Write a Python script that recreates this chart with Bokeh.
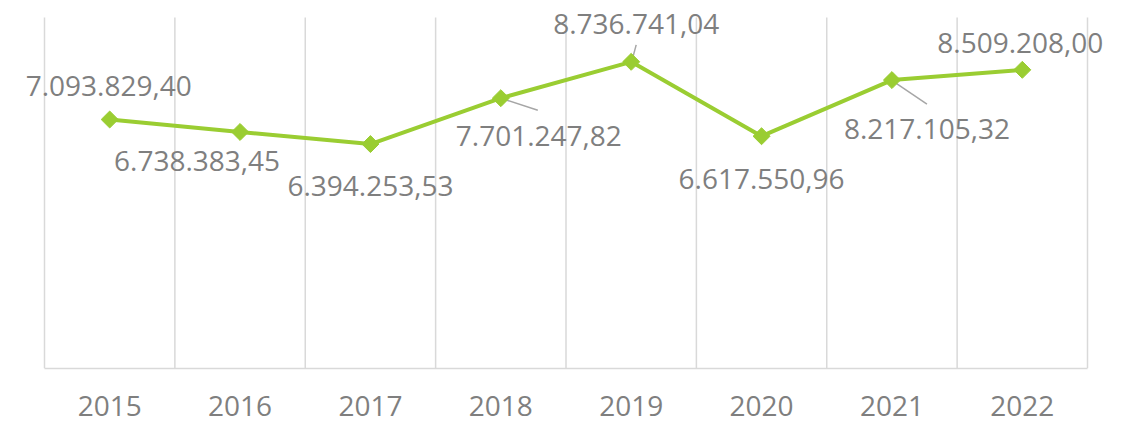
from bokeh.plotting import figure
from bokeh.models import FixedTicker, Range1d, ColumnDataSource, LabelSet
from bokeh.embed import file_html
from bokeh.resources import INLINE
from bokeh.core.properties import value

years = ["2015", "2016", "2017", "2018", "2019", "2020", "2021", "2022"]
values = [7093829.40, 6738383.45, 6394253.53, 7701247.82,
          8736741.04, 6617550.96, 8217105.32, 8509208.00]
labels = ["7.093.829,40", "6.738.383,45", "6.394.253,53", "7.701.247,82",
          "8.736.741,04", "6.617.550,96", "8.217.105,32", "8.509.208,00"]

# label placement (screen pixels, relative to the point; +dy is down)
label_dx = [-1, -43, 0, 38, 5, 0, 35, -2]
label_dy = [-34, 29, 42, 38, -38, 43, 49, -27]

# leader lines (index, start dx, start dy, end dx, end dy) in pixels
leaders = [(3, 3, 1, 37, 12), (4, 1, -2, 5, -17), (6, 1, 1, 35, 24)]

W, H = 1133, 422
# plot-area insets inside the (larger) frame, so labels are not clipped
PL, PR, PT, BB = 44, 46, 17, 54
N = len(years)
PAW = W - PL - PR            # plot area width in px
PAH = H - PT - BB            # plot area height in px
YMAX = 10_000_000
PXU = PAW / N                # px per category
VPX = YMAX / PAH             # value per px

GREEN = "#9ACD32"
TEXT = "#7F7F7F"
GRID = "#D9D9D9"
FONT = "Open Sans"

p = figure(width=W, height=H, output_backend="svg", toolbar_location=None,
           x_range=Range1d(-0.5 - PL / PXU, N - 0.5 + PR / PXU),
           y_range=Range1d(0, YMAX + PT * VPX),
           min_border_left=0, min_border_right=0, min_border_top=0,
           min_border_bottom=BB)
p.outline_line_color = None
p.background_fill_color = "white"
p.border_fill_color = "white"

xs = list(range(N))
bounds = [i - 0.5 for i in range(N + 1)]

p.xgrid.grid_line_color = None
p.ygrid.grid_line_color = None
p.yaxis.visible = False

# vertical grid lines at category boundaries, across the plot area only
p.segment(x0=bounds, y0=[0] * len(bounds), x1=bounds, y1=[YMAX] * len(bounds),
          line_color=GRID, line_width=1.5)

ax = p.xaxis[0]
ax.bounds = (-0.5, N - 0.5)
ax.ticker = FixedTicker(ticks=xs)
ax.major_label_overrides = {i: y for i, y in enumerate(years)}
ax.axis_line_color = GRID
ax.axis_line_width = 1.5
ax.major_tick_line_color = None
ax.minor_tick_line_color = None
ax.major_tick_out = 0
ax.major_tick_in = 0
ax.major_label_standoff = 27
ax.major_label_text_font = FONT
ax.major_label_text_font_size = "28px"
ax.major_label_text_color = TEXT

# leader lines
lx0 = [i + a / PXU for i, a, b, c, d in leaders]
ly0 = [values[i] - b * VPX for i, a, b, c, d in leaders]
lx1 = [i + c / PXU for i, a, b, c, d in leaders]
ly1 = [values[i] - d * VPX for i, a, b, c, d in leaders]
p.segment(x0=lx0, y0=ly0, x1=lx1, y1=ly1, line_color="#A6A6A6", line_width=1.5)

src = ColumnDataSource(dict(x=xs, y=values, label=labels, dx=label_dx,
                            dy=[-d for d in label_dy]))
p.line("x", "y", source=src, line_color=GREEN, line_width=4)
p.scatter("x", "y", source=src, marker="square", size=12, angle=0.785398,
          fill_color=GREEN, line_color=GREEN)

ls = LabelSet(x="x", y="y", text="label", source=src, x_offset="dx", y_offset="dy",
              text_align="center", text_baseline="middle", text_color=TEXT,
              text_font=value(FONT), text_font_size="28px")
p.add_layout(ls)

open("out.html", "w").write(file_html(p, INLINE))
